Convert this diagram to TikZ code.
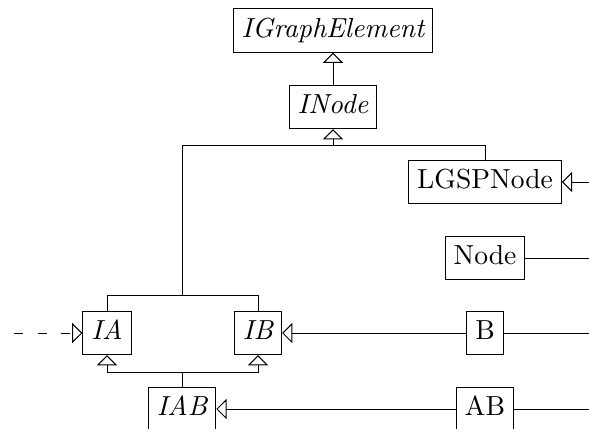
\documentclass[tikz,border=0pt]{standalone}
\usetikzlibrary{arrows.meta}
\begin{document}
\begin{tikzpicture}[x=0.363pt,y=-0.363pt,
  box/.style={draw, line width=0.4pt, minimum height=14.2pt, inner xsep=3.1pt, text height=7pt, text depth=2pt},
  ibox/.style={box, font=\itshape},
  inh/.style={-{Triangle[open,length=3.7pt,width=7.3pt]}},
  conn/.style={line width=0.35pt}]
\useasboundingbox (0,0) rectangle (589,428);
\node[ibox] (ige) at (333,30.5) {IGraphElement};
\node[ibox] (inode) at (333,107) {INode};
\node[box] (lgsp) at (485,182) {LGSPNode};
\node[box] (node) at (485,258) {Node};
\node[box] (b) at (485,333) {B};
\node[box] (ab) at (485,409) {AB};
\node[ibox] (ia) at (107,333) {IA};
\node[ibox] (ib) at (258,333) {IB};
\node[ibox] (iab) at (182,409) {IAB};
\coordinate (busTop) at (333,145);
\coordinate (busL) at (182,145);
\coordinate (busMid) at (182,295);
\coordinate (busLow) at (182,372);
\coordinate (rLGSP) at (589,182);
\coordinate (rNode) at (589,258);
\coordinate (rB) at (589,333);
\coordinate (rAB) at (589,409);
\coordinate (dStart) at (14,333);
\draw[conn,inh] (inode.north) -- (ige.south);
\draw[conn,inh] (busTop) -- (inode.south);
\draw[conn] (lgsp.north) |- (busL) -- (busMid);
\draw[conn] (ia.north) |- (busMid) -| (ib.north);
\draw[conn] (iab.north) -- (busLow);
\draw[conn,inh] (busLow) -| (ia.south);
\draw[conn,inh] (busLow) -| (ib.south);
\draw[conn,inh] (rLGSP) -- (lgsp.east);
\draw[conn] (node.east) -- (rNode);
\draw[conn] (b.east) -- (rB);
\draw[conn,inh] (b.west) -- (ib.east);
\draw[conn] (ab.east) -- (rAB);
\draw[conn,inh] (ab.west) -- (iab.east);
\draw[conn,inh,dash pattern=on 3.2pt off 5.4pt] (dStart) -- (ia.west);
\end{tikzpicture}
\end{document}
